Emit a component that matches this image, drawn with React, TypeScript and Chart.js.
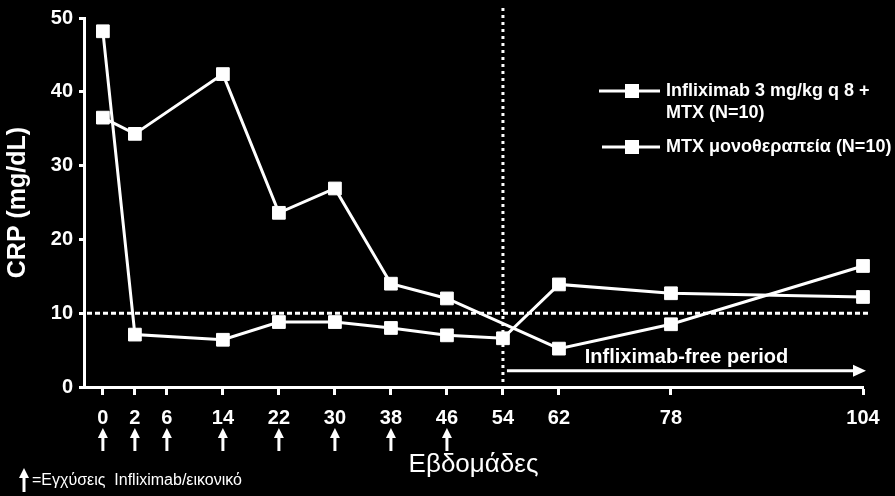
import { useEffect, useRef } from "react"
import { Chart, registerables } from "chart.js"

Chart.register(...registerables)

// weeks shown on the x axis, and where each one sits on the (uneven) drawn axis
const weekLabels = ["0", "2", "6", "14", "22", "30", "38", "46", "54", "62", "78", "104"]
const axisPos = [0, 1, 2, 3.75, 5.5, 7.25, 9, 10.75, 12.5, 14.25, 17.75, 23.75]

// CRP (mg/dL)
const infliximabMtx = [48.2, 7.1, null, 6.4, 8.8, 8.8, 8.0, 7.0, 6.6, 13.9, 12.7, 12.2]
const mtxMono = [36.5, 34.3, null, 42.4, 23.6, 26.9, 14.0, 12.0, null, 5.2, 8.5, 16.4]

const seriesNames = [["Infliximab 3 mg/kg q 8 +", "MTX (N=10)"], ["MTX μονοθεραπεία (N=10)"]]

const yMin = 0
const yMax = 50
const yStep = 10
const threshold = 10
const infusionWeeks = ["0", "2", "6", "14", "22", "30", "38", "46"]
const freePeriodStart = "54"
const freePeriodLevel = 2.2

const FONT = "'Liberation Sans', Arial, sans-serif"

const toPoints = (vals: (number | null)[]) =>
  vals
    .map((v, i) => (v === null ? null : { x: axisPos[i], y: v }))
    .filter((p) => p !== null) as { x: number; y: number }[]

const posOf = (week: string) => axisPos[weekLabels.indexOf(week)]

const overlays = {
  id: "overlays",
  beforeDraw(chart: Chart) {
    const { ctx } = chart
    ctx.save()
    ctx.fillStyle = "#000"
    ctx.fillRect(0, 0, chart.width, chart.height)
    ctx.restore()
  },
  beforeDatasetsDraw(chart: Chart) {
    const { ctx } = chart
    const xs = chart.scales.x
    const ys = chart.scales.y
    ctx.save()
    ctx.strokeStyle = "#fff"
    ctx.lineWidth = 3

    // threshold line
    const ty = ys.getPixelForValue(threshold)
    ctx.setLineDash([5, 3])
    ctx.beginPath()
    ctx.moveTo(xs.left + 3, ty)
    ctx.lineTo(xs.right + 6, ty)
    ctx.stroke()

    // end of infusions
    const vx = xs.getPixelForValue(posOf(freePeriodStart))
    ctx.setLineDash([3, 4])
    ctx.beginPath()
    ctx.moveTo(vx, 8)
    ctx.lineTo(vx, ys.bottom)
    ctx.stroke()
    ctx.setLineDash([])

    // infliximab-free period arrow
    const ay = ys.getPixelForValue(freePeriodLevel)
    const ax0 = vx + 4
    const ax1 = xs.right + 3
    ctx.beginPath()
    ctx.moveTo(ax0, ay)
    ctx.lineTo(ax1 - 10, ay)
    ctx.stroke()
    ctx.fillStyle = "#fff"
    ctx.beginPath()
    ctx.moveTo(ax1, ay)
    ctx.lineTo(ax1 - 13, ay - 6)
    ctx.lineTo(ax1 - 13, ay + 6)
    ctx.closePath()
    ctx.fill()
    ctx.font = `bold 20px ${FONT}`
    ctx.textAlign = "center"
    ctx.textBaseline = "bottom"
    ctx.fillText("Infliximab-free period", (ax0 + ax1) / 2, ay - 3)
    ctx.restore()
  },
  afterDraw(chart: Chart) {
    const { ctx } = chart
    const xs = chart.scales.x
    ctx.save()
    ctx.fillStyle = "#fff"
    ctx.strokeStyle = "#fff"

    const upArrow = (x: number, top: number, bottom: number) => {
      ctx.lineWidth = 3
      ctx.beginPath()
      ctx.moveTo(x, top + 8)
      ctx.lineTo(x, bottom)
      ctx.stroke()
      ctx.beginPath()
      ctx.moveTo(x, top)
      ctx.lineTo(x - 5, top + 10)
      ctx.lineTo(x + 5, top + 10)
      ctx.closePath()
      ctx.fill()
    }

    infusionWeeks.forEach((w) => upArrow(xs.getPixelForValue(posOf(w)), 428, 451))

    // footnote
    upArrow(24, 468, 492)
    ctx.font = `16px ${FONT}`
    ctx.textAlign = "left"
    ctx.textBaseline = "middle"
    ctx.fillText("=Εγχύσεις  Infliximab/εικονικό", 32, 481)

    // legend
    const entries = [
      { y: 91, x0: 599 },
      { y: 147, x0: 602 },
    ]
    entries.forEach((e, i) => {
      ctx.lineWidth = 3
      ctx.beginPath()
      ctx.moveTo(e.x0, e.y)
      ctx.lineTo(660, e.y)
      ctx.stroke()
      ctx.fillRect(625, e.y - 7, 14, 14)
      ctx.font = `bold 18px ${FONT}`
      ctx.textBaseline = "middle"
      seriesNames[i].forEach((line, j) => ctx.fillText(line, 666, e.y + j * 22))
    })
    ctx.restore()
  },
}

export default function App() {
  const chartRef = useRef<HTMLCanvasElement>(null)
  const chartInstance = useRef<Chart | null>(null)

  useEffect(() => {
    document.body.style.margin = "0"
    document.body.style.background = "#000"
    if (!chartRef.current) return
    if (chartInstance.current) chartInstance.current.destroy()

    const lineStyle = {
      borderColor: "#fff",
      backgroundColor: "#fff",
      borderWidth: 3,
      pointStyle: "rect" as const,
      pointRadius: 9,
      pointBorderWidth: 1,
      pointBackgroundColor: "#fff",
      pointBorderColor: "#fff",
      clip: false as const,
    }

    chartInstance.current = new Chart(chartRef.current, {
      type: "line",
      data: {
        datasets: [
          { label: seriesNames[0].join(" "), data: toPoints(infliximabMtx), ...lineStyle },
          { label: seriesNames[1].join(" "), data: toPoints(mtxMono), ...lineStyle },
        ],
      },
      plugins: [overlays],
      options: {
        animation: false,
        responsive: false,
        layout: { padding: { top: 17, right: 32, left: 0, bottom: 0 } },
        plugins: { legend: { display: false }, tooltip: { enabled: false } },
        scales: {
          x: {
            type: "linear",
            min: -0.59,
            max: 23.75,
            afterBuildTicks: (scale) => {
              scale.ticks = axisPos.map((v) => ({ value: v }))
            },
            afterFit: (scale) => {
              scale.height = 109
            },
            border: { display: true, color: "#fff", width: 3 },
            grid: { display: true, drawOnChartArea: false, drawTicks: true, tickLength: 8, tickWidth: 3, tickColor: "#fff", color: "#fff" },
            ticks: {
              autoSkip: false,
              maxRotation: 0,
              padding: 11,
              color: "#fff",
              font: { family: FONT, size: 20, weight: "bold" },
              callback: (value) => weekLabels[axisPos.indexOf(Number(value))] ?? "",
            },
            title: {
              display: true,
              text: "Εβδομάδες",
              color: "#fff",
              font: { family: FONT, size: 26 },
              padding: { top: 0, bottom: 16 },
            },
          },
          y: {
            min: yMin,
            max: yMax,
            afterFit: (scale) => {
              scale.width = 84
            },
            border: { display: true, color: "#fff", width: 3 },
            grid: { display: true, drawOnChartArea: false, drawTicks: true, tickLength: 5, tickWidth: 3, tickColor: "#fff", color: "#fff" },
            ticks: {
              stepSize: yStep,
              padding: 6,
              color: "#fff",
              font: { family: FONT, size: 20, weight: "bold" },
            },
            title: {
              display: true,
              text: "CRP (mg/dL)",
              color: "#fff",
              font: { family: FONT, size: 25, weight: "bold" },
              padding: { top: 3, bottom: 0 },
            },
          },
        },
      },
    })

    return () => {
      if (chartInstance.current) {
        chartInstance.current.destroy()
        chartInstance.current = null
      }
    }
  }, [])

  return (
    <div style={{ width: 895, height: 496, background: "#000" }}>
      <canvas ref={chartRef} width={895} height={496} />
    </div>
  )
}
